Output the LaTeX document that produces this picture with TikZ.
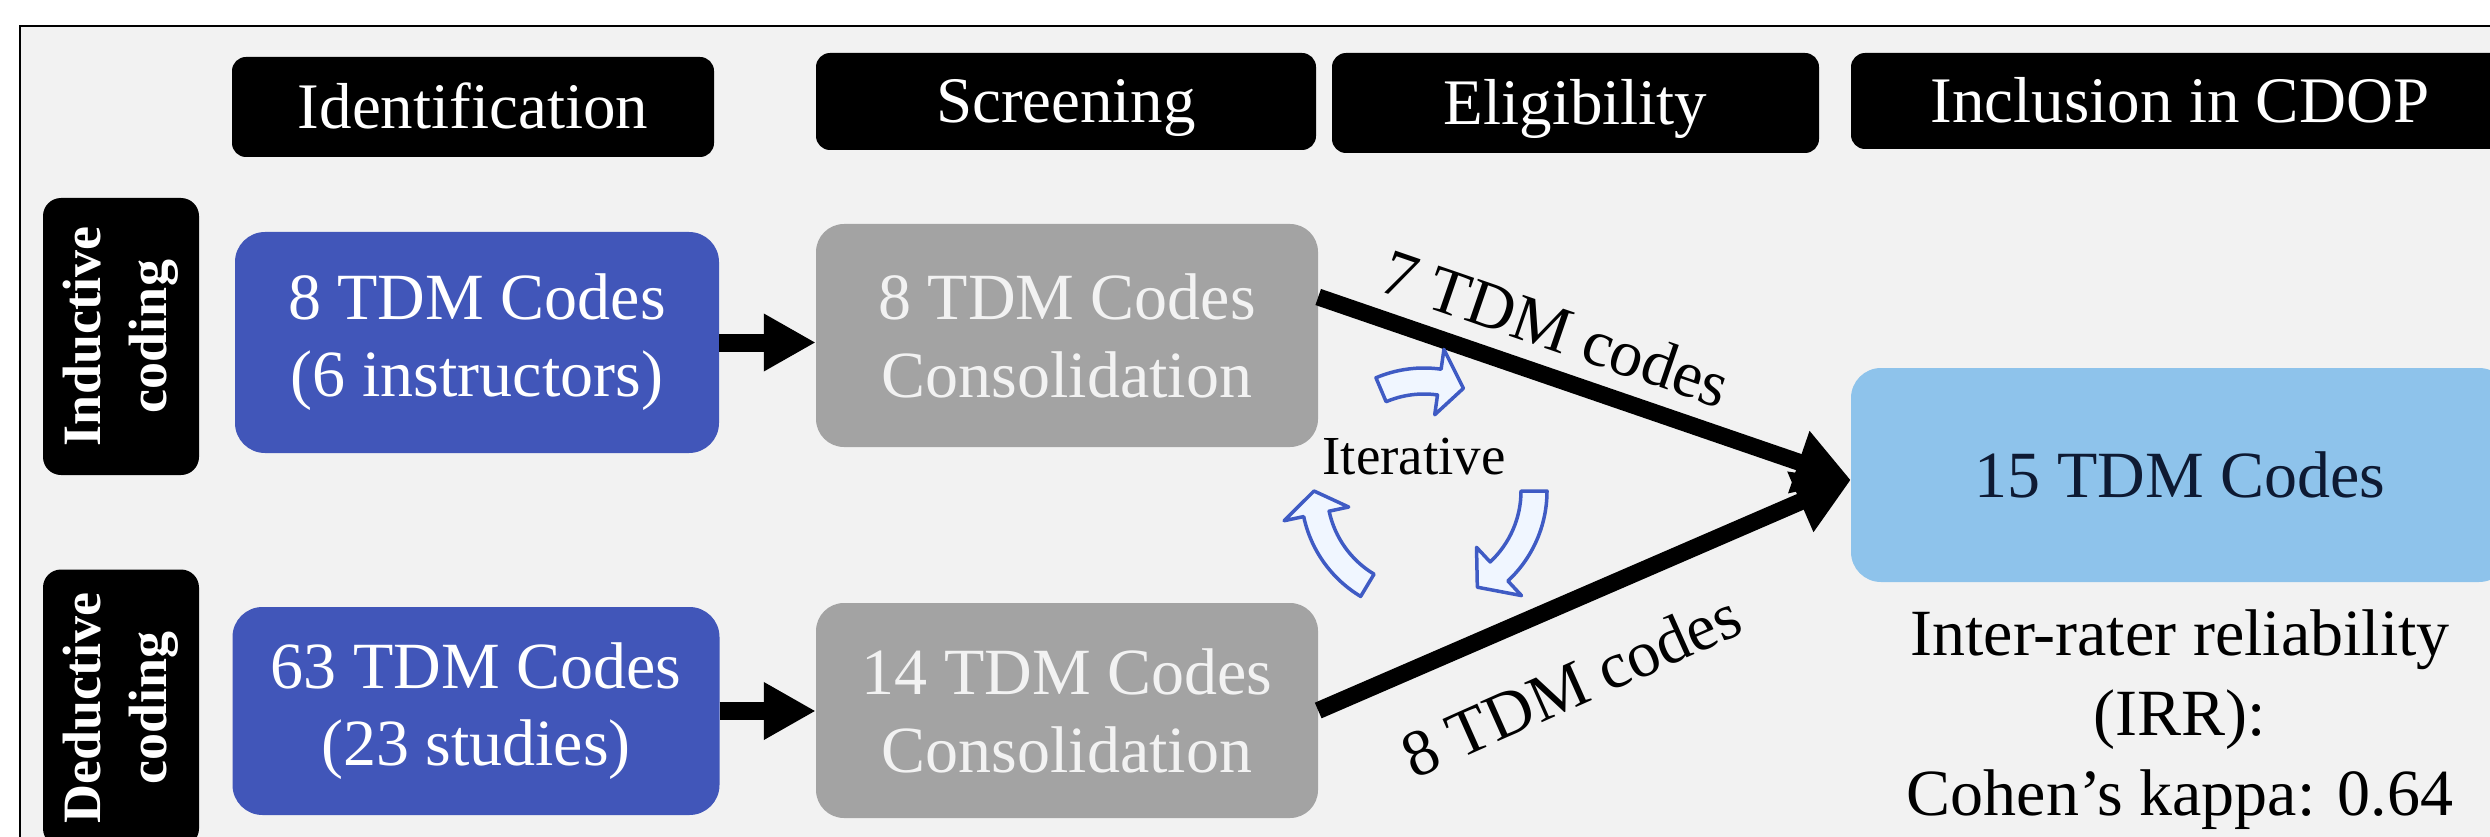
\documentclass[tikz,border=0pt]{standalone}
\usepackage{fontspec}
\setmainfont{Liberation Serif}
\usetikzlibrary{arrows.meta}
\definecolor{bgc}{HTML}{F2F2F2}
\definecolor{boxblue}{HTML}{4156B9}
\definecolor{boxgray}{HTML}{A3A3A3}
\definecolor{lightblue}{HTML}{8EC3EB}
\definecolor{arrblue}{HTML}{3F5BC4}
\definecolor{arrfill}{HTML}{F0F6FF}
\definecolor{navy}{HTML}{0E1A33}
\newcommand{\itarr}[3]{%
  \draw[itarrow] (#1:123pt) arc[start angle=#1, end angle=#2, radius=123pt]
    -- (#2:143pt) -- (#3:110pt) -- (#2:77pt) -- (#2:97pt)
    arc[start angle=#2, end angle=#1, radius=97pt] -- cycle;}
\tikzset{
  hdr/.style={fill=black, rounded corners=14pt, text=white, inner sep=0pt,
    text height=43pt, text depth=0pt,
    font=\fontsize{65}{75}\selectfont},
  sidelbl/.style={fill=black, rounded corners=18pt, text=white, inner sep=0pt,
    rotate=90, align=center, minimum width=277pt, minimum height=156pt,
    font=\fontsize{54}{66}\selectfont\bfseries},
  bluebox/.style={fill=boxblue, rounded corners=30pt, text=white, inner sep=0pt,
    align=center, font=\fontsize{66}{77}\selectfont},
  graybox/.style={fill=boxgray, rounded corners=28pt, text=bgc, inner sep=0pt,
    align=center, font=\fontsize{66}{78}\selectfont},
  lbbox/.style={fill=lightblue, rounded corners=30pt, text=navy, inner sep=0pt,
    font=\fontsize{66}{75}\selectfont},
  plain/.style={text=black, inner sep=0pt, font=\fontsize{66}{80}\selectfont},
  shortarr/.style={line width=18pt, -{Triangle[length=52pt,width=54pt]}},
  bigarr/.style={line width=17pt, -{Triangle[length=55pt,width=62pt]}},
  itarrow/.style={draw=arrblue, fill=arrfill, line width=3.5pt, line join=round},
}
\begin{document}
\begin{tikzpicture}[x=1pt,y=1pt]
\useasboundingbox (0,0) rectangle (2490,-837);
\clip (0,0) rectangle (2490,-837);
\fill[white] (0,0) rectangle (2490,-837);
\fill[bgc] (20,-26) rectangle (2495,-840);
\draw[line width=2pt] (2495,-26) -- (20,-26) -- (20,-840);

% headers
\node[hdr, minimum width=482pt, minimum height=100pt] (hid) at (473,-107) {Identification};
\node[hdr, minimum width=500pt, minimum height=97pt] (hscr) at (1066,-101.5) {Screening};
\node[hdr, minimum width=487pt, minimum height=100pt] (helig) at (1575.5,-103) {Eligibility};
\node[hdr, minimum width=658pt, minimum height=96pt] (hinc) at (2180,-101) {Inclusion in CDOP};

% side labels
\node[sidelbl] (sind) at (121,-336.5) {Inductive\\coding};
\node[sidelbl] (sded) at (121,-708) {Deductive\\coding};

% boxes
\node[bluebox, minimum width=484pt, minimum height=221pt] (b1) at (477,-342.5) {8 TDM Codes\\(6 instructors)};
\node[bluebox, minimum width=487pt, minimum height=208pt] (b2) at (476,-711) {63 TDM Codes\\(23 studies)};
\node[graybox, minimum width=502pt, minimum height=223pt] (g1) at (1067,-335.5) {8 TDM Codes\\Consolidation};
\node[graybox, minimum width=502pt, minimum height=215pt] (g2) at (1067,-710.5) {14 TDM Codes\\Consolidation};
\node[lbbox, minimum width=658pt, minimum height=214pt] (lb) at (2180,-475) {15 TDM Codes};

% short arrows
\draw[shortarr] (b1.east) -- (g1.west |- b1.east);
\draw[shortarr] (b2.east) -- (g2.west |- b2.east);

% big arrows
\draw[bigarr] ([yshift=38.5pt]g1.east) -- ([yshift=-5pt]lb.west);
\draw[bigarr] (g2.east) -- ([yshift=-5pt]lb.west);
\node[plain, rotate=-19] (l7) at (1556,-328) {7 TDM codes};
\node[plain, rotate=24] (l8) at (1571,-685) {8 TDM codes};

% iterative cycle
\node[plain, font=\fontsize{55}{60}\selectfont] (iter) at (1414,-457) {Iterative};
\begin{scope}[shift={(1424,-491)}]
  \itarr{113}{82}{69}
  \itarr{0}{-47}{-61}
  \itarr{239}{192}{180}
\end{scope}

% IRR text
\node[plain, align=center] (irr) at (2180,-720) {Inter-rater reliability\\(IRR):\\Cohen’s kappa: 0.64};
\end{tikzpicture}
\end{document}
